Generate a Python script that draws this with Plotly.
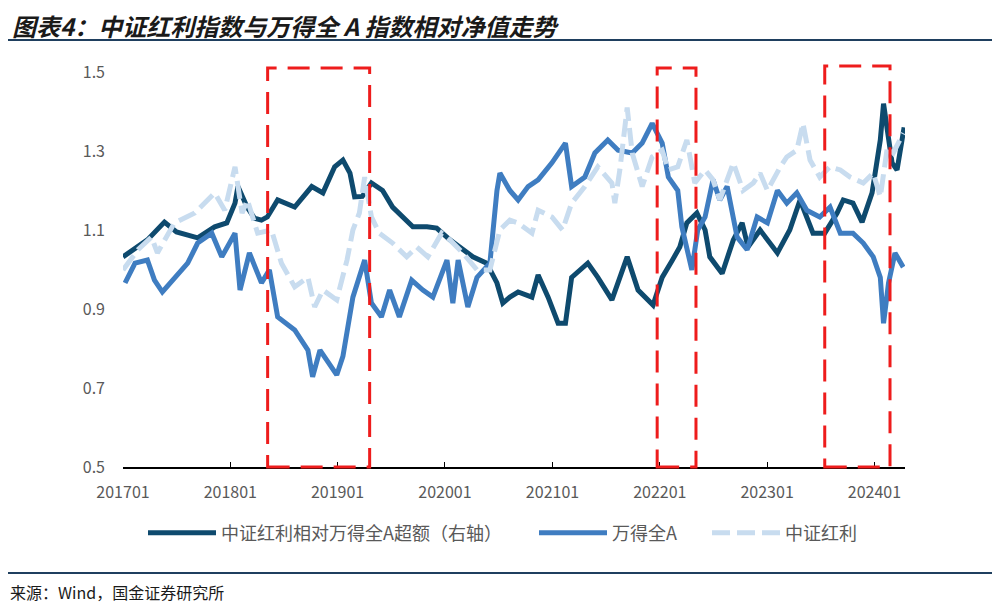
import plotly.graph_objects as go

# ---------------- data ----------------
excess_dates = ["2017-01-01","2017-03-25","2017-05-22","2017-07-02","2017-09-12","2017-11-09","2017-12-20",
    "2018-01-17","2018-01-27","2018-02-27","2018-03-24","2018-04-17","2018-05-07","2018-06-11","2018-08-08",
    "2018-10-05","2018-11-12","2018-12-22","2019-01-19","2019-02-12","2019-02-28","2019-03-26","2019-04-26",
    "2019-06-03","2019-07-07","2019-08-10","2019-09-14","2019-11-01","2019-12-04","2020-01-18","2020-02-21",
    "2020-04-05","2020-05-22","2020-06-26","2020-07-16","2020-08-09","2020-09-06","2020-10-23","2020-11-13",
    "2020-12-17","2021-01-20","2021-02-14","2021-03-07","2021-05-01","2021-06-04","2021-07-22","2021-09-12",
    "2021-10-19","2021-12-09","2022-01-09","2022-02-13","2022-03-10","2022-04-03","2022-05-07","2022-06-04",
    "2022-06-20","2022-08-01","2022-09-08","2022-10-08","2022-10-28","2022-12-08","2023-02-05","2023-03-19",
    "2023-04-23","2023-06-06","2023-07-16","2023-08-27","2023-09-17","2023-10-20","2023-11-20","2023-12-24",
    "2024-01-21","2024-02-01","2024-02-18","2024-03-01","2024-03-18","2024-03-28","2024-04-11"]
excess_values = [1.032,1.075,1.12,1.095,1.08,1.108,1.118,
    1.168,1.21,1.158,1.13,1.125,1.133,1.176,1.158,
    1.21,1.194,1.26,1.277,1.244,1.184,1.185,1.219,
    1.20,1.158,1.133,1.108,1.108,1.105,1.075,1.057,
    1.032,1.016,0.966,0.915,0.93,0.943,0.93,0.986,
    0.93,0.864,0.864,0.98,1.016,0.98,0.923,1.032,
    0.948,0.91,0.98,1.024,1.057,1.118,1.143,1.10,
    1.032,0.99,1.075,1.118,1.057,1.10,1.042,1.10,
    1.176,1.092,1.092,1.143,1.176,1.168,1.12,1.194,
    1.328,1.42,1.32,1.27,1.252,1.30,1.36]

wind_dates = ["2017-01-08","2017-02-11","2017-03-25","2017-04-18","2017-05-15","2017-06-25","2017-08-09",
    "2017-09-12","2017-10-30","2017-12-03","2018-01-17","2018-02-03","2018-03-07","2018-04-17","2018-05-14",
    "2018-06-11","2018-08-08","2018-09-22","2018-10-08","2018-11-02","2018-12-29","2019-01-19","2019-02-22",
    "2019-04-03","2019-04-26","2019-05-30","2019-06-27","2019-07-30","2019-09-10","2019-10-18","2019-11-21",
    "2020-01-08","2020-01-28","2020-02-15","2020-03-19","2020-04-19","2020-06-02","2020-06-26","2020-07-06",
    "2020-08-09","2020-09-06","2020-10-10","2020-11-13","2020-12-30","2021-02-14","2021-03-07","2021-04-21",
    "2021-05-25","2021-07-08","2021-08-12","2021-09-29","2021-11-02","2021-12-06","2022-01-09","2022-01-30",
    "2022-03-03","2022-03-17","2022-04-20","2022-05-10","2022-06-04","2022-07-01","2022-07-24","2022-08-18",
    "2022-09-21","2022-10-25","2022-11-28","2023-01-02","2023-02-05","2023-03-09","2023-04-12","2023-05-16",
    "2023-06-29","2023-08-03","2023-09-07","2023-10-20","2023-11-24","2023-12-28","2024-01-21","2024-02-01",
    "2024-02-18","2024-03-11","2024-04-08"]
wind_values = [0.966,1.016,1.024,0.973,0.943,0.98,1.016,
    1.067,1.092,1.032,1.092,0.948,1.042,0.966,0.999,
    0.88,0.847,0.796,0.728,0.796,0.733,0.78,0.93,
    1.024,0.915,0.88,0.948,0.88,0.973,0.948,0.93,
    1.024,0.915,1.024,0.905,0.98,1.016,1.20,1.244,
    1.20,1.176,1.21,1.227,1.27,1.32,1.21,1.234,
    1.295,1.328,1.302,1.295,1.32,1.37,1.32,1.234,
    1.20,1.108,0.999,1.10,1.133,1.227,1.176,1.21,
    1.082,1.05,1.133,1.118,1.20,1.168,1.194,1.15,
    1.133,1.158,1.092,1.092,1.067,1.032,0.98,0.864,
    0.966,1.042,1.006]

div_dates = ["2017-01-01","2017-02-21","2017-04-08","2017-04-28","2017-06-25","2017-09-02","2017-11-09",
    "2017-12-13","2018-01-17","2018-02-10","2018-02-28","2018-04-04","2018-05-21","2018-06-24","2018-08-08",
    "2018-09-22","2018-10-15","2018-11-12","2018-12-29","2019-02-02","2019-02-22","2019-03-16","2019-04-03",
    "2019-04-26","2019-05-23","2019-07-07","2019-08-24","2019-09-27","2019-11-04","2019-12-21","2020-01-18",
    "2020-03-02","2020-04-19","2020-06-02","2020-07-06","2020-08-09","2020-09-06","2020-10-23","2020-11-13",
    "2020-12-30","2021-02-04","2021-03-07","2021-04-21","2021-06-04","2021-07-22","2021-08-01","2021-08-18",
    "2021-09-12","2021-09-29","2021-11-02","2021-12-06","2022-01-09","2022-01-30","2022-03-03","2022-04-03",
    "2022-04-30","2022-06-04","2022-07-01","2022-07-24","2022-09-08","2022-10-11","2022-11-15","2022-12-08",
    "2023-01-02","2023-02-15","2023-03-09","2023-04-12","2023-05-03","2023-05-27","2023-06-29","2023-08-03",
    "2023-09-07","2023-10-10","2023-11-24","2023-12-28","2024-01-21","2024-02-14","2024-03-05","2024-04-08"]
div_values = [0.999,1.05,1.082,1.042,1.118,1.143,1.194,
    1.15,1.26,1.143,1.176,1.092,1.10,1.016,0.956,
    0.98,0.905,0.948,0.923,1.024,1.10,1.143,1.234,
    1.133,1.092,1.067,1.032,1.057,1.032,1.092,1.075,
    1.042,0.999,0.999,1.10,1.125,1.118,1.092,1.15,
    1.133,1.10,1.168,1.21,1.26,1.219,1.168,1.252,
    1.41,1.295,1.21,1.285,1.302,1.252,1.26,1.328,
    1.219,1.252,1.227,1.176,1.27,1.20,1.219,1.244,
    1.20,1.26,1.285,1.302,1.37,1.277,1.234,1.26,
    1.252,1.234,1.219,1.244,1.184,1.31,1.295,1.345]

series_names = ["中证红利相对万得全A超额（右轴）", "万得全A", "中证红利"]

# highlighted periods (red dashed boxes)
box_starts = ["2018-05-08", "2021-12-23", "2023-07-16"]
box_ends = ["2019-04-20", "2022-05-04", "2024-02-23"]
box_tops = [1.51, 1.51, 1.515]

y_min, y_max = 0.5, 1.5
y_ticks = [0.5, 0.7, 0.9, 1.1, 1.3, 1.5]

# ---------------- styles / layout geometry ----------------
C_DARK = "#0E4A6E"
C_MID = "#3F7DC1"
C_LIGHT = "#C8DCEF"
C_RED = "#EE1C1C"
C_TEXT = "#595959"
FONT = "Noto Sans CJK SC"

W, H = 992, 597             # page body has an 8px margin
ML, MR, MT, MB = 115, 95, 64, 138
PW, PH = W - ML - MR, H - MT - MB


def px_x(px):   # figure pixel -> paper x
    return (px - ML) / PW


def px_y(py):   # figure pixel -> paper y
    return (H - MB - py) / PH


fig = go.Figure()
fig.add_trace(go.Scatter(x=excess_dates, y=excess_values, mode="lines", name=series_names[0],
                         line=dict(color=C_DARK, width=5), legend="legend"))
fig.add_trace(go.Scatter(x=wind_dates, y=wind_values, mode="lines", name=series_names[1],
                         line=dict(color=C_MID, width=5), legend="legend2"))
fig.add_trace(go.Scatter(x=div_dates, y=div_values, mode="lines", name=series_names[2],
                         line=dict(color=C_LIGHT, width=5, dash="18px,7px"), legend="legend3"))

for s, e, t in zip(box_starts, box_ends, box_tops):
    fig.add_shape(type="rect", xref="x", yref="paper", x0=s, x1=e,
                  y0=0, y1=(t - y_min) / (y_max - y_min),
                  line=dict(color=C_RED, width=3, dash="22px,11px"), layer="above")

leg_common = dict(orientation="h", yanchor="middle", xanchor="left", y=px_y(525),
                  font=dict(size=18, color=C_TEXT, family=FONT), itemwidth=68,
                  bgcolor="rgba(0,0,0,0)")

fig.update_layout(
    width=W, height=H,
    margin=dict(l=ML, r=MR, t=MT, b=MB),
    paper_bgcolor="white", plot_bgcolor="white",
    font=dict(family=FONT, color=C_TEXT, size=16),
    showlegend=True,
    legend=dict(x=px_x(135), **leg_common),
    legend2=dict(x=px_x(526), **leg_common),
    legend3=dict(x=px_x(699), **leg_common),
    xaxis=dict(type="date", range=["2017-01-01", "2024-04-14"], dtick="M12", tick0="2017-01-01",
               tickformat="%Y%m", showgrid=False, showline=True, linecolor="#000000", linewidth=1.5,
               ticks="inside", ticklen=5, tickcolor="#000000", tickfont=dict(size=16, color=C_TEXT),
               ticklabelstandoff=10, zeroline=False),
    yaxis=dict(range=[y_min, y_max], tickvals=y_ticks, ticktext=[f"{v:.1f}" for v in y_ticks],
               showgrid=False, showline=False, zeroline=False, ticks="",
               tickfont=dict(size=16, color=C_TEXT), ticklabelstandoff=17),
)

# title
fig.add_annotation(xref="paper", yref="paper", x=px_x(2), y=px_y(17), xanchor="left", yanchor="middle",
                   text="<b><i>图表4：中证红利指数与万得全 A 指数相对净值走势</i></b>", showarrow=False,
                   font=dict(size=24, color="#1a1a1a", family=FONT))
# source
fig.add_annotation(xref="paper", yref="paper", x=px_x(0), y=px_y(584), xanchor="left", yanchor="middle",
                   text="来源：Wind，国金证券研究所", showarrow=False,
                   font=dict(size=16, color="#1a1a1a", family=FONT))
# separator lines
for yy in [32, 565]:
    fig.add_shape(type="line", xref="paper", yref="paper",
                  x0=px_x(0), x1=px_x(984), y0=px_y(yy), y1=px_y(yy),
                  line=dict(color="#1F3F5F", width=2))

fig.write_html("out.html")
